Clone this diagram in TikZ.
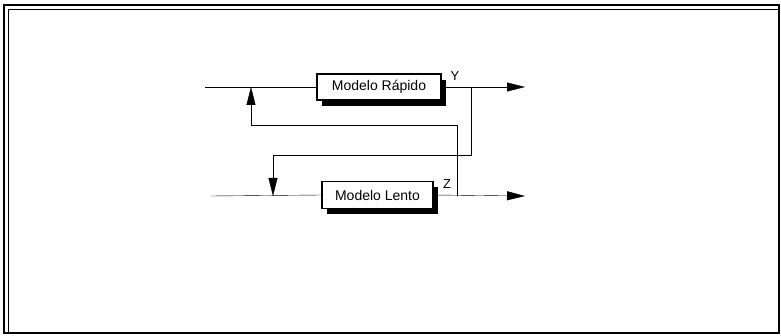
\documentclass[tikz,border=0pt]{standalone}
\usepackage{fontspec}
\setmainfont{Liberation Sans}
\usetikzlibrary{arrows.meta,shadows,backgrounds}
\begin{document}
\begin{tikzpicture}[x=1pt,y=-1pt,
  line width=0.9pt,
  block/.style={draw, line width=1.1pt, fill=white, inner sep=0pt,
    font=\fontsize{14}{16}\selectfont,
    drop shadow={shadow xshift=5pt, shadow yshift=-6pt, opacity=1, fill=black}},
  lbl/.style={font=\fontsize{13}{15}\selectfont, inner sep=0pt},
  flow/.style={-{Triangle[length=18pt,width=9pt]}}]
\useasboundingbox (0,0) rectangle (781,336);

% page frame with inner rule on the left and top
\draw[line width=1.3pt] (4,5) rectangle (779,333);
\draw[line width=0.8pt] (8,333) -- (8,9) -- (779,9);

% the two model blocks (text set a little left of centre)
\node[block, minimum width=124pt, minimum height=26pt] (rapido) at (379,87) {Modelo Rápido\hspace{10pt}};
\node[block, minimum width=111pt, minimum height=27pt] (lento) at (377.5,195) {Modelo Lento\hspace{10pt}};

\node[lbl] (ly) at (455,76) {Y};
\node[lbl] (lz) at (447,184) {Z};

% signal points
\coordinate (inR) at (205,87);
\coordinate (outR) at (525,87);
\coordinate (jY) at (471,87);
\coordinate (k1) at (471,155);
\coordinate (fbL) at (273,196);
\coordinate (inL) at (211,196);
\coordinate (outL) at (525,196);
\coordinate (jZ) at (457,196);
\coordinate (k2) at (457,125);
\coordinate (fbR) at (251,87);

\begin{scope}[on background layer]
  \draw (inR) -- (rapido.west);
  \draw[flow] (rapido.east) -- (outR);
  \draw (inL) -- (lento.west);
  \draw[flow] (lento.east) -- (outL);
  % cross-coupling feedback paths
  \draw[flow] (jY) -- (k1) -| (fbL);
  \draw[flow] (jZ) -- (k2) -| (fbR);
\end{scope}
\end{tikzpicture}
\end{document}
